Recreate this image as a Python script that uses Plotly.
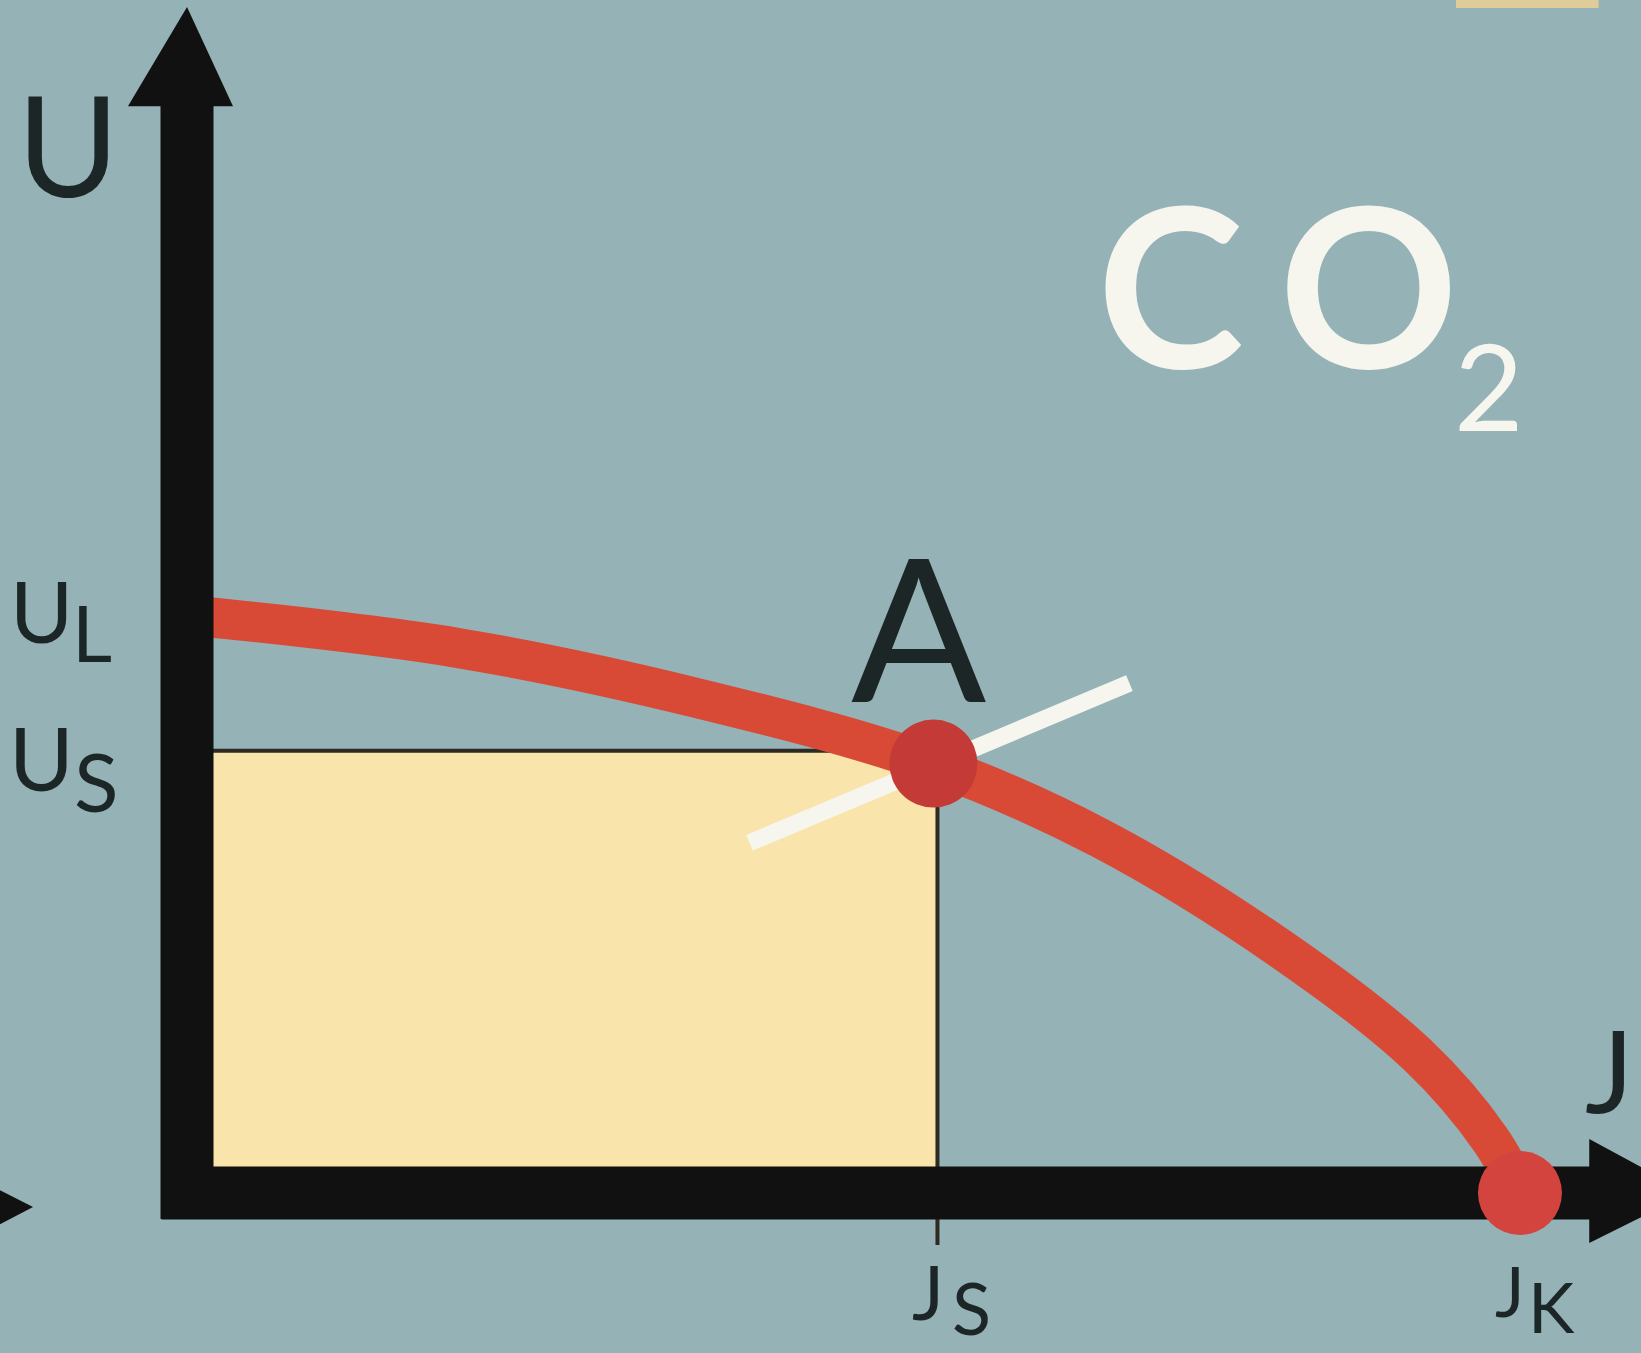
import plotly.graph_objects as go

# ---------------- data (J in % of J_K, U in % of U_L) ----------------
curve_J = [0, 20.3, 38.5, 55.9, 68.5, 82.2, 92.3, 97.8, 100]
curve_U = [100, 94.3, 85.5, 74.2, 61.4, 42.0, 23.9, 9.2, 0]

U_L = 100.0
U_S = 76.5
J_S = 56.3
J_K = 100.0
A_J, A_U = 56.0, 74.3          # working point A
tangent_J = [42.2, 70.7]        # white characteristic line
tangent_U = [60.6, 88.2]

# ---------------- styling ----------------
BG = "#95B3B6"
YELLOW = "#F9E4AC"
RED = "#D84A36"
DOT_RED = "#C43A36"
BLACK = "#111111"
INK = "#1C2626"
WHITE = "#F6F6EF"
FONT = "Lato"

X_RANGE = [-14.03, 109.08]
Y_RANGE = [-27.68, 206.40]

fig = go.Figure()

# yellow power rectangle
fig.add_trace(go.Scatter(
    x=[0, J_S, J_S, 0, 0], y=[0, 0, U_S, U_S, 0],
    fill="toself", fillcolor=YELLOW, mode="lines", line=dict(width=0),
    hoverinfo="skip"))
# thin border lines (top + right, with tick below the axis)
fig.add_trace(go.Scatter(
    x=[0, J_S, J_S], y=[U_S, U_S, -9.0], mode="lines",
    line=dict(color="#2E2A22", width=4), hoverinfo="skip"))

# red source characteristic
fig.add_trace(go.Scatter(
    x=curve_J, y=curve_U, mode="lines",
    line=dict(color=RED, width=40, shape="spline", smoothing=1.0),
    hoverinfo="skip"))

# white line through A
fig.add_trace(go.Scatter(
    x=tangent_J, y=tangent_U, mode="lines", line=dict(color=WHITE, width=17),
    hoverinfo="skip"))

# axes (thick black)
fig.add_trace(go.Scatter(x=[0, 0], y=[-4.5, 188.5], mode="lines",
                         line=dict(color=BLACK, width=53), hoverinfo="skip"))
fig.add_trace(go.Scatter(x=[-1.9, 105.5], y=[0, 0], mode="lines",
                         line=dict(color=BLACK, width=53), hoverinfo="skip"))
# arrow heads
fig.add_trace(go.Scatter(x=[-4.43, 0, 3.45, -4.43], y=[188.0, 205.2, 188.0, 188.0],
                         fill="toself", fillcolor=BLACK, mode="lines", line=dict(width=0),
                         hoverinfo="skip"))
fig.add_trace(go.Scatter(x=[105.2, 112.7, 105.2, 105.2], y=[9.34, 0, -8.65, 9.34],
                         fill="toself", fillcolor=BLACK, mode="lines", line=dict(width=0),
                         hoverinfo="skip"))
# partial arrow at left edge (from neighbouring drawing)
fig.add_trace(go.Scatter(x=[-17.0, -11.55, -17.0, -17.0], y=[3.98, -2.42, -9.0, 3.98],
                         fill="toself", fillcolor=BLACK, mode="lines", line=dict(width=0),
                         hoverinfo="skip"))
# small tan patch at the top edge
fig.add_trace(go.Scatter(x=[95.2, 105.9, 105.9, 95.2, 95.2], y=[206.4, 206.4, 205.0, 205.0, 206.4],
                         fill="toself", fillcolor="#E0CC9A", mode="lines", line=dict(width=0),
                         hoverinfo="skip"))

# dots
fig.add_trace(go.Scatter(x=[A_J], y=[A_U], mode="markers",
                         marker=dict(size=88, color=DOT_RED, line=dict(width=0)), hoverinfo="skip"))
fig.add_trace(go.Scatter(x=[J_K], y=[0], mode="markers",
                         marker=dict(size=84, color="#D4443E", line=dict(width=0)), hoverinfo="skip"))

# ---------------- text ----------------
def label(x, y, text, size, color=INK, weight="normal"):
    fig.add_annotation(x=x, y=y, text=text, showarrow=False, xanchor="center", yanchor="middle",
                       font=dict(family=FONT, size=size, color=color, weight=weight))

label(-8.93, 181.66, "U", 139)
label(-10.88, 101.0, "U", 86)
label(-7.13, 97.0, "L", 78)
label(-10.88, 75.4, "U", 88)
label(-6.8, 71.4, "S", 82)
label(54.84, 98.3, "A", 200)
label(73.8, 157.6, "C", 222, WHITE, "bold")
label(88.6, 157.6, "O", 222, WHITE, "bold")
label(97.67, 139.8, "2", 120, WHITE)
label(106.75, 21.6, "J", 115)
label(55.59, -16.8, "J", 76)
label(58.89, -19.7, "S", 72)
label(99.25, -16.8, "J", 70)
label(102.40, -19.6, "K", 70)

fig.update_layout(
    width=1641, height=1353,
    margin=dict(l=0, r=0, t=0, b=0),
    paper_bgcolor=BG, plot_bgcolor=BG,
    showlegend=False,
    xaxis=dict(range=X_RANGE, visible=False, fixedrange=True),
    yaxis=dict(range=Y_RANGE, visible=False, fixedrange=True),
)

fig.write_html("out.html", config={"displayModeBar": False},
               post_script="document.body.style.margin='0';document.body.style.overflow='hidden';")
